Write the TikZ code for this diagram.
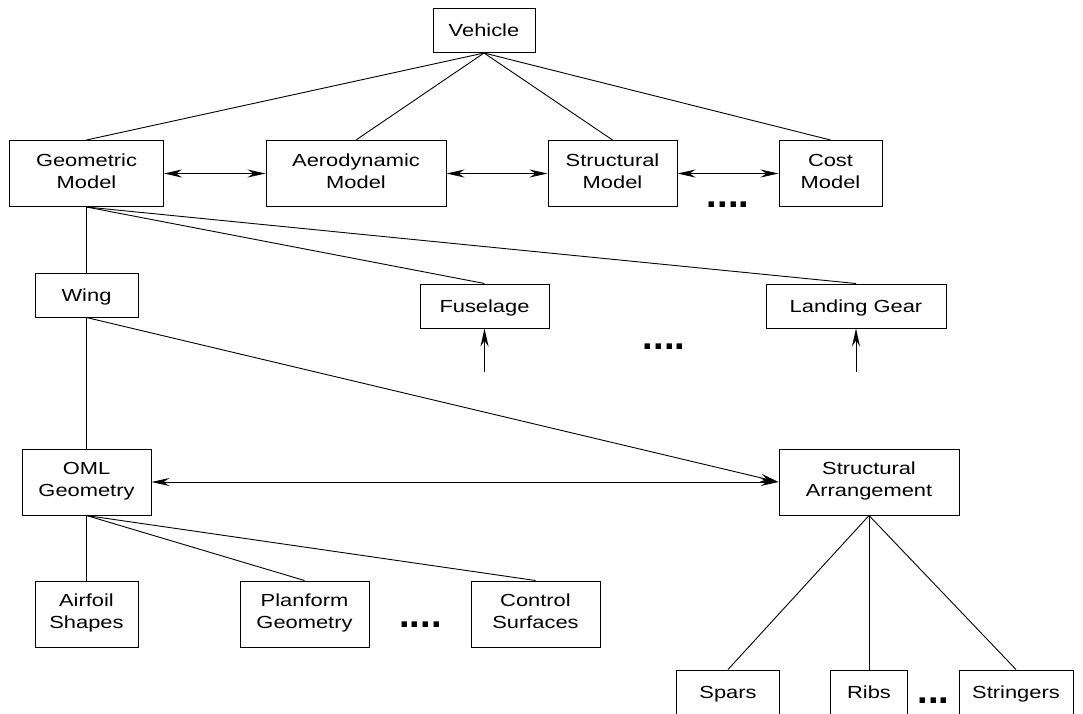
\documentclass[tikz,border=0pt]{standalone}
\usepackage{fontspec}
\usetikzlibrary{arrows.meta}
\newfontfamily\boxfont[FakeStretch=1.25]{Liberation Sans}
\newfontfamily\dotfont{Liberation Sans}

\begin{document}
\begin{tikzpicture}[x=1pt, y=-1pt,
  box/.style={draw, line width=1pt, inner sep=0pt, align=center,
    font=\boxfont\fontsize{17.5}{22}\selectfont,
    execute at begin node=\rule{0pt}{17.5pt},
    execute at end node=\rule[-5pt]{0pt}{5pt}},
  one/.style={box, minimum height=44pt},
  two/.style={box, minimum height=66pt},
  link/.style={line width=0.9pt},
  twoway/.style={link, {Stealth[length=18pt,width=8pt,inset=6pt]}-{Stealth[length=18pt,width=8pt,inset=6pt]}},
  oneway/.style={link, -{Stealth[length=18pt,width=8pt,inset=6pt]}},
  etc/.style={font=\dotfont\bfseries\fontsize{38}{38}\selectfont, inner sep=0pt, anchor=base}]

%--- Page frame (bottom row is cut off by the frame)
\useasboundingbox (0,0) rectangle (1083,713);
\clip (0,0) rectangle (1083,713);

%=== LEVEL 1: VEHICLE ===
\node[one, minimum width=102pt] (veh) at (484,30.5) {Vehicle};

%=== LEVEL 2: DISCIPLINE MODELS ===
\node[two, minimum width=154pt] (geo)  at (86.5,173.5)  {Geometric\\Model};
\node[two, minimum width=180pt] (aero) at (356,173.5)   {Aerodynamic\\Model};
\node[two, minimum width=129pt] (stm)  at (612.5,173.5) {Structural\\Model};
\node[two, minimum width=103pt] (cost) at (830.5,173.5) {Cost\\Model};
\node[etc] (dots1) at (728,207) {....};

%=== LEVEL 3: COMPONENTS ===
\node[one, minimum width=103pt] (wing) at (86.5,295)  {Wing};
\node[one, minimum width=129pt] (fus)  at (484.5,306) {Fuselage};
\node[one, minimum width=180pt] (gear) at (856,306)   {Landing Gear};
\node[etc] (dots2) at (664,349) {....};
\coordinate (fusin)  at (484.5,372);
\coordinate (gearin) at (856,372);

%=== LEVEL 4: WING DESCRIPTION ===
\node[two, minimum width=129pt] (oml) at (86.5,482) {OML\\Geometry};
\node[two, minimum width=180pt] (sa)  at (869,482)  {Structural\\Arrangement};

%=== LEVEL 5: OML PARTS ===
\node[two, minimum width=103pt] (foil) at (86.5,614)  {Airfoil\\Shapes};
\node[two, minimum width=129pt] (plan) at (304.5,614) {Planform\\Geometry};
\node[two, minimum width=129pt] (ctrl) at (535.5,614) {Control\\Surfaces};
\node[etc] (dots3) at (420.5,627) {....};

%=== LEVEL 5: STRUCTURAL MEMBERS ===
\node[one, minimum width=103pt] (spar) at (728,692)  {Spars};
\node[one, minimum width=77pt]  (rib)  at (869,692)  {Ribs};
\node[one, minimum width=114pt] (str)  at (1016,692) {Stringers};
\node[etc] (dots4) at (933.5,703) {...};

%--- Tree connectors
\foreach \c in {geo, aero, stm, cost} {
  \draw[link] (veh.south) -- (\c.north);
}
\foreach \c in {wing, fus, gear} {
  \draw[link] (geo.south) -- (\c.north);
}
\draw[link] (wing.south) -- (oml.north);
\foreach \c in {foil, plan, ctrl} {
  \draw[link] (oml.south) -- (\c.north);
}
\foreach \c in {spar, rib, str} {
  \draw[link] (sa.south) -- (\c.north);
}

%--- Data exchange arrows
\draw[twoway] (geo.east)  -- (aero.west);
\draw[twoway] (aero.east) -- (stm.west);
\draw[twoway] (stm.east)  -- (cost.west);
\draw[twoway] (oml.east)  -- (sa.west);
\draw[oneway] (wing.south) -- (sa.west);
\draw[oneway] (fusin)  -- (fus.south);
\draw[oneway] (gearin) -- (gear.south);

\end{tikzpicture}
\end{document}
